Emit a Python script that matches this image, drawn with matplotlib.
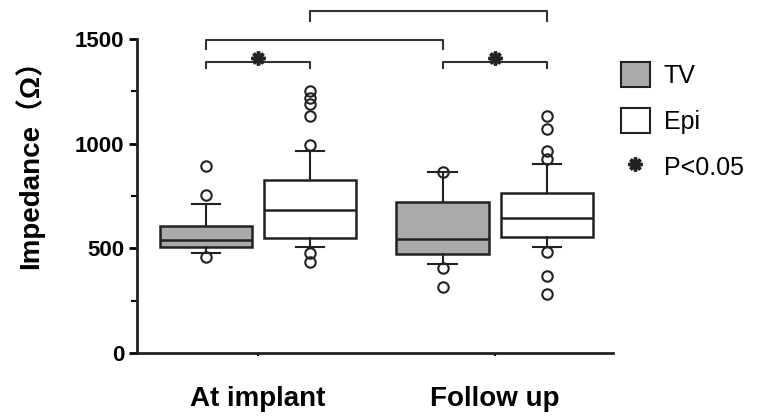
import matplotlib.pyplot as plt
from matplotlib.patches import Patch
from matplotlib.lines import Line2D

plt.rcParams['font.family'] = ['Liberation Sans', 'Noto Sans CJK SC', 'DejaVu Sans']

# Data (Ohm)
groups = ['At implant', 'Follow up']

tv_q1 = [505, 471]
tv_med = [538, 543]
tv_q3 = [605, 719]
tv_lo = [476, 424]
tv_hi = [709, 862]
tv_fliers = [[752, 895, 457], [866, 405, 314]]

epi_q1 = [547, 552]
epi_med = [681, 643]
epi_q3 = [828, 762]
epi_lo = [505, 505]
epi_hi = [962, 904]
epi_fliers = [[995, 1133, 1190, 1219, 1252, 476, 433],
              [928, 966, 1071, 1133, 481, 367, 281]]

# significance brackets: (box a, box b, height, leg, star)
brackets = [(0, 1, 1390, 30, True), (2, 3, 1390, 30, True),
            (0, 2, 1495, 45, False), (1, 3, 1633, 50, False)]

def make_stats(q1, med, q3, lo, hi, fl):
    return [dict(q1=a, med=b, q3=c, whislo=d, whishi=e, fliers=f)
            for a, b, c, d, e, f in zip(q1, med, q3, lo, hi, fl)]

tv_stats = make_stats(tv_q1, tv_med, tv_q3, tv_lo, tv_hi, tv_fliers)
epi_stats = make_stats(epi_q1, epi_med, epi_q3, epi_lo, epi_hi, epi_fliers)

fig = plt.figure(figsize=(7.57, 4.19), dpi=100)
ax = fig.add_axes([0.181, 0.1575, 0.629, 0.84])

off = 0.22
centers = [1, 2]
tv_pos = [c - off for c in centers]
epi_pos = [c + off for c in centers]
lc = '#222222'

common = dict(widths=0.39, patch_artist=True, manage_ticks=False,
              whiskerprops=dict(color=lc, lw=1.5),
              capprops=dict(color=lc, lw=1.5),
              medianprops=dict(color=lc, lw=1.8),
              flierprops=dict(marker='o', markersize=7.5, markerfacecolor='none',
                              markeredgecolor=lc, markeredgewidth=1.5),
              capwidths=0.12)
b1 = ax.bxp(tv_stats, positions=tv_pos, **common)
b2 = ax.bxp(epi_stats, positions=epi_pos, **common)
for p in b1['boxes']:
    p.set_facecolor('#aaaaaa'); p.set_edgecolor(lc); p.set_linewidth(1.8)
for p in b2['boxes']:
    p.set_facecolor('white'); p.set_edgecolor(lc); p.set_linewidth(1.8)

# brackets
allpos = [tv_pos[0], epi_pos[0], tv_pos[1], epi_pos[1]]
for a, b, h, leg, star in brackets:
    xa, xb = allpos[a], allpos[b]
    ax.plot([xa, xa, xb, xb], [h - leg, h, h, h - leg], color='#333333', lw=1.5,
            clip_on=False)
    if star:
        ax.plot((xa + xb) / 2, h + 18, marker=(8, 2, 0), markersize=10,
                markeredgewidth=2.5, color='#222222', clip_on=False)

ax.set_xlim(0.49, 2.5)
ax.set_ylim(0, 1680)
ax.spines['top'].set_visible(False)
ax.spines['right'].set_visible(False)
ax.spines['left'].set_bounds(0, 1500)
for s in ['left', 'bottom']:
    ax.spines[s].set_linewidth(2)
    ax.spines[s].set_color('#222222')

ax.set_yticks([0, 500, 1000, 1500])
ax.set_yticks([250, 750, 1250], minor=True)
ax.tick_params(axis='y', which='major', length=6, width=2, labelsize=16, pad=3)
ax.tick_params(axis='y', which='minor', length=4, width=1.5)
for t in ax.get_yticklabels():
    t.set_fontweight('bold')
ax.set_xticks(centers)
ax.set_xticklabels(groups, fontsize=20, fontweight='bold')
ax.tick_params(axis='x', length=2, width=1.5, pad=22)

ax.set_ylabel('Impedance（Ω）', fontsize=20, fontweight='bold')
ax.yaxis.set_label_coords(-0.195, 0.555)

handles = [Patch(facecolor='#aaaaaa', edgecolor=lc, lw=1.5),
           Patch(facecolor='white', edgecolor=lc, lw=1.5),
           Line2D([], [], ls='none', marker=(8, 2, 0), markersize=10,
                  markeredgewidth=2.5, color='#222222')]
fig.legend(handles, ['TV', 'Epi', 'P<0.05'], loc='upper left',
           bbox_to_anchor=(621 / 757, 1 - 62 / 419), frameon=False,
           fontsize=18, handlelength=1.15, handleheight=1.15,
           handletextpad=0.55, labelspacing=0.8, borderpad=0, borderaxespad=0)

fig.savefig('out.png', dpi=100)
